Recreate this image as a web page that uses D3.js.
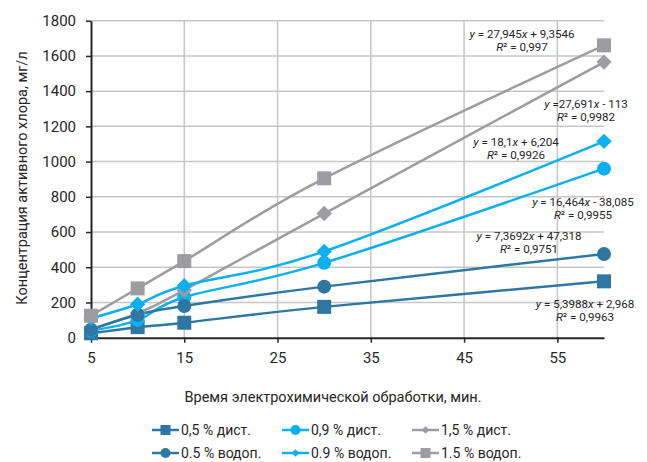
<!DOCTYPE html>
<html><head><meta charset="utf-8">
<script src="https://cdn.jsdelivr.net/npm/d3@7/dist/d3.min.js"></script>
<style>
body{margin:0;background:#fff;}
text{font-family:Roboto,"Noto Sans",sans-serif;fill:#262626;}
</style></head>
<body><svg id="c" width="647" height="462"></svg>
<script>
const times = [5, 10, 15, 30, 60];
const s05dist = [25, 60, 85, 175, 320];
const s09dist = [40, 100, 230, 425, 960];
const s15dist = [50, 140, 270, 705, 1565];
const s05vod = [45, 130, 180, 290, 475];
const s09vod = [110, 190, 295, 490, 1115];
const s15vod = [125, 280, 435, 905, 1660];
const seriesNames = ["0,5 % дист.", "0,9 % дист.", "1,5 % дист.", "0.5 % водоп.", "0.9 % водоп.", "1.5 % водоп."];
const xTicks = [5, 15, 25, 35, 45, 55];
const yTicks = [0, 200, 400, 600, 800, 1000, 1200, 1400, 1600, 1800];
const trendEq = ["y = 5,3988x + 2,968", "y = 16,464x - 38,085", "y =27,691x - 113", "y = 7,3692x + 47,318", "y = 18,1x + 6,204", "y = 27,945x + 9,3546"];
const trendR2 = ["R² = 0,9963", "R² = 0,9955", "R² = 0,9982", "R² = 0,9751", "R² = 0,9926", "R² = 0,997"];

const dark = "#2e77a2", light = "#0cb0ee", gray = "#9d9da1";
const series = [
  {name: seriesNames[0], vals: s05dist, color: dark, shape: "square", lshape: "square", lab: [585, 304]},
  {name: seriesNames[1], vals: s09dist, color: light, shape: "circle", lshape: "circle", lab: [583, 202]},
  {name: seriesNames[2], vals: s15dist, color: gray, shape: "diamond", lshape: "diamond", lab: [586, 104]},
  {name: seriesNames[3], vals: s05vod, color: dark, shape: "circle", lshape: "circle", lab: [529, 236]},
  {name: seriesNames[4], vals: s09vod, color: light, shape: "diamond", lshape: "diamond", lab: [516, 142]},
  {name: seriesNames[5], vals: s15vod, color: gray, shape: "square", lshape: "square", lab: [522, 34]}
];

const svg = d3.select("#c");
const L = 91, R = 604, T = 20.7, B = 337.7;
const x = d3.scaleLinear().domain([5, 60]).range([L, R]);
const y = d3.scaleLinear().domain([0, 1800]).range([B, T]);

// grid
svg.append("g").selectAll("line").data(yTicks.slice(1)).join("line")
  .attr("x1", L).attr("x2", R).attr("y1", d => y(d)).attr("y2", d => y(d))
  .attr("stroke", "#c6c6c6").attr("stroke-width", 1.5);
svg.append("g").selectAll("line").data(xTicks.slice(1)).join("line")
  .attr("x1", d => x(d)).attr("x2", d => x(d)).attr("y1", T).attr("y2", B)
  .attr("stroke", "#c6c6c6").attr("stroke-width", 1.5);

// axes
const xa = svg.append("g").attr("transform", `translate(0,${B})`)
  .call(d3.axisBottom(x).tickValues(xTicks).tickFormat(d3.format("d")).tickSize(5).tickPadding(10).tickSizeOuter(0));
const ya = svg.append("g").attr("transform", `translate(${L},0)`)
  .call(d3.axisLeft(y).tickValues(yTicks).tickFormat(d3.format("d")).tickSize(5).tickPadding(10).tickSizeOuter(0));
[xa, ya].forEach(a => {
  a.select(".domain").attr("stroke", "#262626").attr("stroke-width", 2);
  a.selectAll(".tick line").attr("stroke", "#262626").attr("stroke-width", 1.5);
  a.selectAll(".tick text").attr("font-size", 15).attr("fill", "#262626").attr("font-family", "Roboto");
});

// titles
svg.append("text").attr("transform", "translate(27,178) rotate(-90)")
  .attr("text-anchor", "middle").attr("font-size", 14.5).text("Концентрация активного хлора, мг/л");
svg.append("text").attr("x", 333).attr("y", 402).attr("text-anchor", "middle")
  .attr("font-size", 14.5).text("Время электрохимической обработки, мин.");

function marker(g, shape, cx, cy, size, color) {
  if (shape === "square") {
    g.append("rect").attr("x", cx - size / 2).attr("y", cy - size / 2).attr("width", size).attr("height", size).attr("fill", color);
  } else if (shape === "circle") {
    g.append("circle").attr("cx", cx).attr("cy", cy).attr("r", size / 2).attr("fill", color);
  } else {
    const h = size / 2 * 1.1;
    g.append("path").attr("d", `M${cx},${cy - h}L${cx + h},${cy}L${cx},${cy + h}L${cx - h},${cy}Z`).attr("fill", color);
  }
}

const line = d3.line().x((d, i) => x(times[i])).y(d => y(d)).curve(d3.curveCardinal.tension(0));
const plot = svg.append("g");
series.forEach(s => {
  plot.append("path").attr("d", line(s.vals)).attr("fill", "none")
    .attr("stroke", s.color).attr("stroke-width", 2.5);
});
series.forEach(s => {
  const g = plot.append("g");
  s.vals.forEach((v, i) => marker(g, s.shape, x(times[i]), y(v), 14, s.color));
});

// trend labels
function eqText(str, xx, yy) {
  const el = svg.append("text").attr("x", xx).attr("y", yy).attr("text-anchor", "middle").attr("font-size", 11.6).attr("fill", "#333");
  const parts = str.match(/[xy]|[^xy]+/g);
  parts.forEach(p => {
    el.append("tspan").attr("font-style", (p === "x" || p === "y") ? "italic" : null).text(p);
  });
}
function r2Text(str, xx, yy) {
  const el = svg.append("text").attr("x", xx).attr("y", yy).attr("text-anchor", "middle").attr("font-size", 11.6).attr("fill", "#333");
  el.append("tspan").attr("font-style", "italic").text("R");
  el.append("tspan").text(str.slice(1));
}
series.forEach((s, i) => {
  eqText(trendEq[i], s.lab[0], s.lab[1] + 4);
  r2Text(trendR2[i], s.lab[0], s.lab[1] + 17);
});

// legend
const legX = [152, 282, 412], legY = [430, 453];
series.forEach((s, i) => {
  const col = i % 3, row = Math.floor(i / 3);
  const g = svg.append("g");
  const x0 = legX[col], yy = legY[row];
  g.append("line").attr("x1", x0).attr("x2", x0 + 27).attr("y1", yy).attr("y2", yy).attr("stroke", s.color).attr("stroke-width", 2.5);
  const sz = s.lshape === "diamond" ? 7 : 10;
  marker(g, s.lshape, x0 + 13.5, yy, sz, s.color);
  g.append("text").attr("x", x0 + 29).attr("y", yy + 5).attr("font-size", 14).attr("fill", "#404040").text(s.name);
});
</script></body></html>
